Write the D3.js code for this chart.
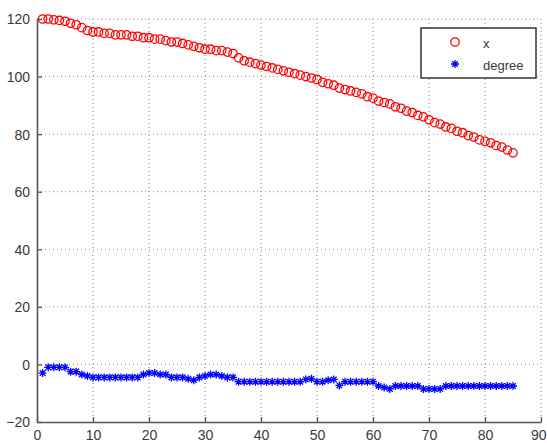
<!DOCTYPE html>
<html>
<head>
<meta charset="utf-8">
<script src="https://cdn.jsdelivr.net/npm/d3@7"></script>
<style>
  html, body { margin: 0; padding: 0; background: #fff; }
  svg { display: block; }
</style>
</head>
<body>
<svg id="chart" width="547" height="443"></svg>
<script>
// ---- data ----
const xValues = [
  120, 120, 119.7, 119.5, 119.2, 118.5, 118, 117, 116, 115.5,
  115.5, 115, 115, 114.5, 114.5, 114.5, 114, 114, 113.5, 113.5,
  113, 113, 112.5, 112, 112, 111.5, 111, 110.5, 110, 109.5,
  109.5, 109, 109, 108.5, 108, 106.5, 105.5, 105, 104.5, 104,
  103.5, 103, 102.5, 102, 101.5, 101, 100.5, 100, 99.5, 99,
  98, 97.5, 97, 96, 95.5, 95, 94.5, 94, 93, 92.5,
  91.5, 91, 90.5, 89.5, 89, 88, 87.5, 86.5, 86, 85,
  84, 83.5, 82.5, 82, 81, 80.5, 79.5, 79, 78, 77.5,
  77, 76, 75.5, 74.5, 73.5
];
const degreeValues = [
  -3, -1, -1, -1, -1, -2.5, -2.5, -3.5, -4, -4.5,
  -4.5, -4.5, -4.5, -4.5, -4.5, -4.5, -4.5, -4.5, -3.5, -3,
  -3, -3.5, -3.5, -4.5, -4.5, -4.5, -5, -5.5, -4.5, -4,
  -3.5, -3.5, -4, -4.5, -4.5, -6, -6, -6, -6, -6,
  -6, -6, -6, -6, -6, -6, -6, -5.2, -5, -6,
  -6, -5.5, -5.2, -7.3, -6, -6, -6, -6, -6, -6,
  -7.5, -8, -8.5, -7.5, -7.5, -7.5, -7.5, -7.5, -8.5, -8.5,
  -8.5, -8.5, -7.5, -7.5, -7.5, -7.5, -7.5, -7.5, -7.5, -7.5,
  -7.5, -7.5, -7.5, -7.5, -7.5
];
const sampleIndex = d3.range(1, xValues.length + 1);
const xTicks = [0, 10, 20, 30, 40, 50, 60, 70, 80, 90];
const yTicks = [-20, 0, 20, 40, 60, 80, 100, 120];
const seriesNames = ["x", "degree"];

// ---- layout ----
const svg = d3.select("#chart");
const pLeft = 37, pRight = 541, pTop = 19, pBottom = 422;
const x = d3.scaleLinear().domain([0, 90]).range([pLeft, pRight]);
const y = d3.scaleLinear().domain([-20, 120]).range([pBottom, pTop]);

const axisColor = "#555";
const textColor = "#3a3a3a";
const font = "Arial, 'Liberation Sans', sans-serif";

// grid
const grid = svg.append("g");
grid.selectAll("line.gx").data(xTicks.filter(t => t > 0)).join("line")
  .attr("x1", d => x(d)).attr("x2", d => x(d))
  .attr("y1", pTop).attr("y2", pBottom)
  .attr("stroke", "#888").attr("stroke-width", 1)
  .attr("stroke-dasharray", "1,3");
grid.selectAll("line.gy").data(yTicks.filter(t => t > -20)).join("line")
  .attr("x1", pLeft).attr("x2", pRight)
  .attr("y1", d => y(d)).attr("y2", d => y(d))
  .attr("stroke", "#888").attr("stroke-width", 1)
  .attr("stroke-dasharray", "1,3");

// axes
const xAxis = d3.axisBottom(x).tickValues(xTicks).tickSizeInner(-5).tickSizeOuter(0).tickPadding(8);
const yAxis = d3.axisLeft(y).tickValues(yTicks).tickSizeInner(-5).tickSizeOuter(0).tickPadding(7);

const gx = svg.append("g").attr("transform", `translate(0,${pBottom})`).call(xAxis);
const gy = svg.append("g").attr("transform", `translate(${pLeft},0)`).call(yAxis);
[gx, gy].forEach(g => {
  g.select(".domain").attr("stroke", axisColor).attr("stroke-width", 1.6);
  g.selectAll(".tick line").attr("stroke", axisColor).attr("stroke-width", 1.3);
  g.selectAll(".tick text").attr("fill", textColor)
    .style("font-family", font).style("font-size", "14px");
});
gy.selectAll(".tick text").attr("dy", "0.35em");
// keep the last x label inside the window (it sits at the right edge)
gx.selectAll(".tick text").filter(d => d === 90)
  .attr("text-anchor", "end").attr("x", 5);

// red circles (x series)
svg.append("g").selectAll("circle").data(sampleIndex).join("circle")
  .attr("cx", d => x(d)).attr("cy", (d, i) => y(xValues[i]))
  .attr("r", 4.2)
  .attr("fill", "none").attr("stroke", "#ff0000").attr("stroke-width", 1.3);

// blue asterisks (degree series)
const star = d3.symbol().type({
  draw(ctx, size) {
    const r = Math.sqrt(size) / 2;
    const dgl = r * 0.7;
    ctx.moveTo(-r, 0); ctx.lineTo(r, 0);
    ctx.moveTo(0, -r); ctx.lineTo(0, r);
    ctx.moveTo(-dgl, -dgl); ctx.lineTo(dgl, dgl);
    ctx.moveTo(-dgl, dgl); ctx.lineTo(dgl, -dgl);
  }
}).size(64);
svg.append("g").selectAll("path").data(sampleIndex).join("path")
  .attr("transform", (d, i) => `translate(${x(d)},${y(degreeValues[i])})`)
  .attr("d", star)
  .attr("fill", "none").attr("stroke", "#0000ff").attr("stroke-width", 1.3);

// legend
const lg = svg.append("g");
lg.append("rect").attr("x", 421).attr("y", 28).attr("width", 115).attr("height", 50)
  .attr("fill", "#fff").attr("stroke", "#333").attr("stroke-width", 1.5);
lg.append("circle").attr("cx", 455).attr("cy", 42).attr("r", 4.2)
  .attr("fill", "none").attr("stroke", "#ff0000").attr("stroke-width", 1.3);
lg.append("path").attr("transform", "translate(455,64)").attr("d", star)
  .attr("fill", "none").attr("stroke", "#0000ff").attr("stroke-width", 1.3);
lg.selectAll("text").data(seriesNames).join("text")
  .attr("x", 483).attr("y", (d, i) => 43 + i * 22).attr("dy", "0.35em")
  .attr("fill", textColor).style("font-family", font).style("font-size", "13px")
  .text(d => d);
</script>
</body>
</html>
